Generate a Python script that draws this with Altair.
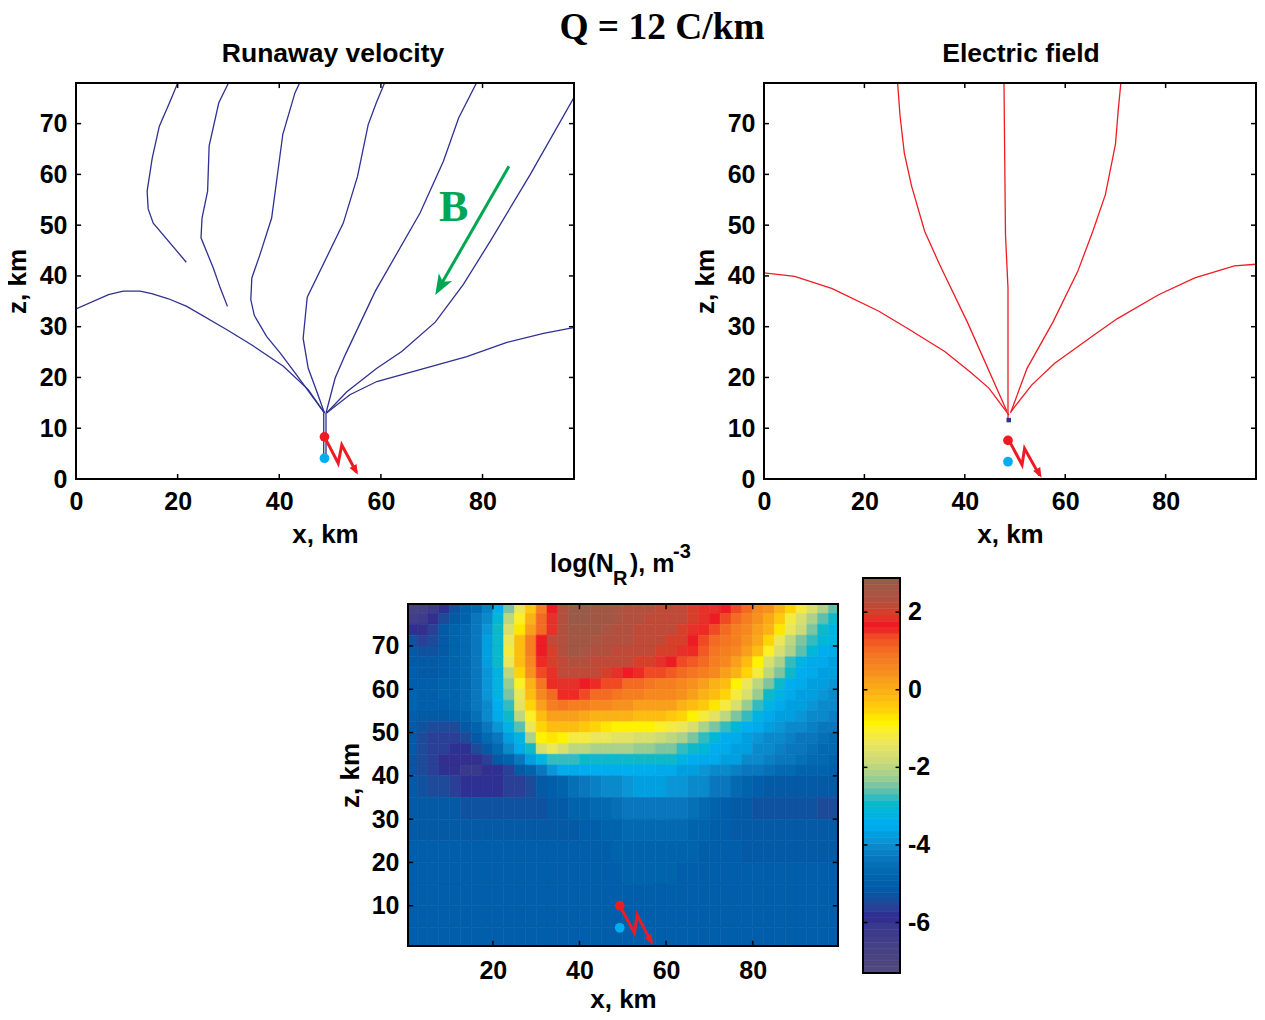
import altair as alt
import pandas as pd

SANS = "Liberation Sans"
SERIF = "Liberation Serif"
NAVY = "#2e3192"
RED = "#ed1c24"
BLUE = "#00aeef"
GREEN = "#00a651"

# ---------- runaway velocity lines (x km, z km)
W1 = [(21.7,42.7),(15.2,50.4),(14.2,53.2),(14.0,56.7),(15.0,63.2),(16.4,69.5),(18.4,74.1),(20.1,78.2)]
W2 = [(29.8,34.0),(28.4,37.6),(27.0,41.6),(24.6,47.5),(24.8,51.4),(25.9,56.7),(26.2,65.6),(28.1,74.1),(30.1,78.2)]
W3 = [(48.9,13.0),(47.0,15.6),(43.4,20.5),(40.2,24.8),(37.5,28.1),(35.1,32.2),(34.4,35.3),(34.6,39.6),(36.2,44.2),(38.5,51.4),(40.7,67.9),(43.1,76.1),(44.1,78.2)]
W4 = [(48.9,13.0),(47.4,17.2),(45.7,21.8),(44.7,27.7),(45.5,35.8),(52.6,50.4),(55.4,59.6),(57.5,69.8),(59.1,74.1),(60.8,78.2)]
W5 = [(49.2,13.0),(51.0,19.9),(53.0,24.5),(58.9,37.0),(67.7,52.4),(72.3,62.6),(75.3,71.1),(78.9,78.2)]
W6 = [(49.3,13.0),(53.3,17.2),(59.2,21.8),(64.1,25.1),(70.7,30.9),(76.2,38.3),(81.5,46.8),(89.4,60.0),(97.9,75.0)]
W7 = [(49.3,13.0),(53.9,16.6),(59.2,19.2),(76.9,24.1),(84.8,26.9),(92.0,28.7),(97.9,29.8)]
W8 = [(48.9,13.0),(45.7,17.6),(40.8,22.2),(34.6,26.4),(29.7,29.4),(21.8,34.0),(18.2,35.5),(14.9,36.5),(12.6,37.0),(9.3,37.0),(6.4,36.3),(0.0,33.5)]
T1 = [(48.75,4.2),(48.75,13.0)]
T2 = [(49.2,4.2),(49.2,13.0)]
VEL_LINES = [W1, W2, W3, W4, W5, W6, W7, W8, T1, T2]

# ---------- electric field lines
E1 = [(48.8,12.6),(44.8,17.9),(41.2,21.0),(36.0,25.1),(28.7,29.6),(22.8,33.1),(13.6,37.5),(6.1,39.9),(0.0,40.6)]
E2 = [(48.4,13.3),(40.6,30.7),(35.0,42.2),(32.0,48.8),(29.4,57.7),(27.95,64.2),(27.1,71.5),(26.6,78.2)]
E3 = [(48.6,11.6),(48.6,37.6),(48.1,48.1),(47.8,78.2)]
E4 = [(49.1,13.0),(52.4,21.8),(57.6,31.0),(62.5,40.9),(65.5,48.8),(68.0,56.0),(70.0,65.9),(70.6,73.1),(71.1,78.2)]
E5 = [(49.2,13.3),(53.3,18.5),(57.9,22.8),(65.8,28.4),(70.4,31.6),(78.6,36.3),(85.8,39.6),(93.7,42.0),(98.0,42.3)]
EF_LINES = [E1, E2, E3, E4, E5]

# ---------- annotation geometry, km
BOLT1 = [(48.9,8.3),(51.6,3.1),(52.3,6.7),(54.6,2.4),(55.2,1.3)]
BOLT2 = [(48.8,7.6),(51.4,2.8),(51.9,6.0),(54.5,1.4),(54.9,0.7)]
BOLT3 = [(49.3,10.0),(52.7,3.7),(53.3,7.9),(56.0,2.7),(56.6,1.6)]
TIP1 = (55.0,1.7); TIP2 = (54.8,1.1); TIP3 = (56.4,2.0)
RED_DOT = [(48.9,8.3),(48.6,7.6),(49.3,10.0)]
BLUE_DOT = [(48.9,4.1),(48.6,3.4),(49.3,4.9)]
B_ARROW = [(85.2,61.6),(72.0,38.6)]
B_TIP = (71.7,38.0)
ROOT2 = (48.75,11.6)

# ---------- colormap, bottom of the colour bar to the top
CMAP_TOP_DOWN = [
 "#9a5a48","#a05845","#a85544","#b25040","#c04a38","#d63f2a","#e6302a","#ed1c24",
 "#ee2a25","#f04a25","#f25a24","#f36a23","#f47522","#f57f20","#f6881f","#f7911e",
 "#f8a01b","#f9a918","#fbb216","#fdbd10","#fec90c","#ffd406","#ffe600","#fff200",
 "#fbef25","#f5eb40","#ece758","#e3e264","#d8df6e","#ccdb76","#bdd680","#abd18a",
 "#97cc93","#7cc5a0","#5dc0ad","#33bcc0","#0db9c9","#00b7d8","#00b3e3","#00aeef",
 "#00aaeb","#009fdf","#0a96d6","#0a8acb","#0a80c4","#0a76bd","#0670b7","#0369b1",
 "#0064ac","#005eaa","#055aa6","#0f52a0","#1e4a9a","#2a3f96","#2e3192","#322f8f",
 "#3a3a8d","#3d3c8b","#413f88","#444186","#474383","#4a4580","#4d477e","#504a7c"]
CMAP = CMAP_TOP_DOWN[::-1]
VMIN, VMAX = -7.3, 2.88

# ---------- log(N_R) grid, top row first; columns every 2.5 km
Z_EDGES = [80,77.5,75,72.5,70,67.5,65,62.5,60,57.5,55,52.5,50,47.5,45,42.5,40,35,30,25,20,15,10,5,0]
X_STEP = 2.5
ROWS = [
[-6.8,-6.6,-6.2,-5.8,-5.3,-4.9,-4.6,-4.2,-3.4,-2.5,-1.4,-0.4,0.8,1.7,2.3,2.8,2.8,2.7,2.6,2.5,2.4,2.3,2.3,2.2,2.2,2.1,2.0,1.9,1.9,1.7,1.4,1.0,0.6,0.4,0.0,-0.6,-1.2,-1.7,-2.2,-2.6],
[-6.5,-6.3,-6.0,-5.5,-5.1,-4.8,-4.4,-4.0,-3.1,-2.0,-1.0,-0.1,1.0,1.9,2.4,2.8,2.8,2.7,2.6,2.5,2.4,2.3,2.2,2.2,2.1,2.1,2.0,1.9,1.7,1.3,1.0,0.7,0.4,0.1,-0.4,-1.1,-1.6,-2.1,-2.6,-3.0],
[-6.0,-5.9,-5.6,-5.2,-4.9,-4.7,-4.3,-3.9,-3.0,-1.7,-0.7,0.2,1.1,1.9,2.3,2.7,2.7,2.6,2.5,2.4,2.3,2.2,2.2,2.1,2.1,2.0,1.9,1.6,1.3,1.0,0.8,0.5,0.2,-0.1,-0.7,-1.3,-1.8,-2.4,-3.0,-3.2],
[-5.3,-5.6,-5.4,-5.1,-4.9,-4.7,-4.3,-3.8,-3.0,-1.3,-0.2,0.8,1.7,2.1,2.4,2.7,2.6,2.5,2.4,2.3,2.3,2.2,2.1,2.1,2.0,2.0,1.7,1.4,1.1,0.9,0.7,0.4,0.1,-0.6,-1.4,-1.9,-2.4,-2.8,-3.1,-3.3],
[-5.2,-5.3,-5.3,-5.1,-4.9,-4.7,-4.3,-3.8,-2.9,-1.2,-0.2,0.7,1.7,2.0,2.3,2.6,2.5,2.4,2.3,2.2,2.2,2.1,2.1,2.0,2.0,1.8,1.5,1.2,0.9,0.7,0.5,0.2,-0.2,-1.0,-1.6,-2.1,-2.6,-3.1,-3.4,-3.5],
[-5.1,-5.2,-5.2,-5.0,-4.9,-4.6,-4.3,-3.8,-3.0,-1.3,-0.3,0.6,1.6,2.0,2.2,2.4,2.3,2.2,2.2,2.1,2.1,2.0,2.0,1.9,1.7,1.4,1.2,1.0,0.7,0.5,0.2,-0.2,-0.9,-1.6,-2.2,-2.7,-3.2,-3.5,-3.6,-3.7],
[-5.0,-5.1,-5.1,-5.0,-4.8,-4.6,-4.3,-3.9,-3.2,-1.9,-0.6,0.4,1.3,1.9,2.1,2.2,2.1,2.1,2.0,1.9,1.7,1.5,1.4,1.3,1.2,1.0,0.9,0.7,0.5,0.3,0.0,-0.5,-1.2,-1.9,-2.5,-3.0,-3.4,-3.6,-3.7,-3.8],
[-5.0,-5.0,-5.0,-4.9,-4.8,-4.6,-4.3,-3.9,-3.2,-2.3,-1.0,0.0,0.9,1.6,1.9,1.9,1.7,1.5,1.4,1.3,1.1,1.0,0.9,0.8,0.7,0.6,0.4,0.2,0.0,-0.3,-0.8,-1.4,-2.0,-2.5,-3.0,-3.4,-3.6,-3.7,-3.8,-3.9],
[-4.9,-5.0,-5.0,-4.9,-4.8,-4.6,-4.3,-3.9,-3.3,-2.5,-1.3,-0.3,0.5,1.1,1.5,1.5,1.3,1.1,1.0,0.9,0.8,0.7,0.6,0.6,0.5,0.4,0.2,0.0,-0.2,-0.6,-1.2,-1.7,-2.3,-2.9,-3.2,-3.5,-3.7,-3.8,-3.9,-4.0],
[-4.9,-5.0,-5.0,-5.0,-4.8,-4.6,-4.3,-4.0,-3.4,-2.7,-1.5,-0.6,0.2,0.7,0.9,0.8,0.7,0.6,0.5,0.4,0.4,0.3,0.3,0.2,0.2,0.0,-0.2,-0.4,-0.7,-1.2,-1.7,-2.3,-2.8,-3.2,-3.5,-3.7,-3.8,-3.9,-4.0,-4.1],
[-5.0,-5.1,-5.2,-5.2,-5.0,-4.8,-4.5,-4.1,-3.6,-3.0,-1.9,-1.0,-0.2,0.2,0.3,0.2,0.1,0.0,0.0,-0.1,-0.1,-0.2,-0.2,-0.3,-0.4,-0.5,-0.8,-1.1,-1.5,-1.9,-2.4,-2.8,-3.2,-3.5,-3.7,-3.8,-3.9,-4.0,-4.1,-4.2],
[-5.1,-5.3,-5.5,-5.5,-5.4,-5.1,-4.8,-4.4,-3.9,-3.3,-2.6,-1.4,-0.5,-0.3,-0.2,-0.3,-0.4,-0.5,-0.7,-0.8,-0.9,-0.9,-0.9,-1.0,-1.2,-1.4,-1.7,-2.1,-2.5,-2.8,-3.1,-3.4,-3.6,-3.8,-3.9,-4.0,-4.1,-4.2,-4.3,-4.4],
[-5.2,-5.4,-5.6,-5.7,-5.7,-5.5,-5.1,-4.7,-4.3,-3.7,-3.2,-2.2,-0.9,-0.7,-0.9,-1.1,-1.2,-1.3,-1.4,-1.5,-1.5,-1.6,-1.6,-1.8,-1.9,-2.2,-2.5,-2.8,-3.1,-3.4,-3.6,-3.7,-3.9,-4.0,-4.1,-4.2,-4.3,-4.4,-4.5,-4.6],
[-5.2,-5.4,-5.6,-5.7,-5.8,-5.8,-5.5,-5.1,-4.6,-4.1,-3.5,-2.9,-1.6,-1.4,-1.6,-1.9,-2.0,-2.1,-2.1,-2.2,-2.2,-2.3,-2.3,-2.4,-2.5,-2.7,-2.9,-3.1,-3.4,-3.5,-3.7,-3.8,-4.0,-4.1,-4.2,-4.3,-4.4,-4.5,-4.6,-4.7],
[-5.3,-5.5,-5.7,-5.9,-6.0,-6.0,-5.9,-5.6,-5.2,-4.8,-4.4,-3.8,-3.2,-2.7,-2.7,-2.8,-2.9,-2.9,-2.9,-2.9,-2.9,-2.9,-2.9,-2.9,-3.0,-3.2,-3.4,-3.5,-3.6,-3.7,-3.8,-4.0,-4.1,-4.2,-4.3,-4.4,-4.5,-4.6,-4.7,-4.8],
[-5.3,-5.5,-5.6,-5.8,-5.95,-6.05,-6.05,-6.0,-5.8,-5.6,-5.2,-4.8,-4.3,-3.9,-3.6,-3.5,-3.4,-3.4,-3.4,-3.4,-3.4,-3.4,-3.4,-3.5,-3.6,-3.7,-3.8,-3.9,-4.0,-4.1,-4.2,-4.3,-4.4,-4.5,-4.6,-4.7,-4.8,-4.9,-4.9,-5.0],
[-5.2,-5.3,-5.4,-5.5,-5.7,-5.8,-5.8,-5.8,-5.8,-5.7,-5.6,-5.4,-5.2,-5.0,-4.8,-4.5,-4.4,-4.2,-4.1,-4.0,-3.9,-3.8,-3.8,-3.8,-3.9,-3.9,-4.0,-4.1,-4.3,-4.4,-4.6,-4.8,-5.0,-5.1,-5.2,-5.2,-5.2,-5.2,-5.2,-5.1],
[-5.2,-5.2,-5.2,-5.2,-5.2,-5.25,-5.25,-5.25,-5.25,-5.25,-5.25,-5.25,-5.25,-5.2,-5.1,-4.9,-4.8,-4.7,-4.6,-4.5,-4.4,-4.3,-4.3,-4.3,-4.3,-4.4,-4.5,-4.7,-4.8,-5.0,-5.1,-5.2,-5.3,-5.35,-5.35,-5.3,-5.3,-5.3,-5.4,-5.4],
[-5.1,-5.1,-5.1,-5.1,-5.1,-5.1,-5.1,-5.1,-5.1,-5.1,-5.1,-5.1,-5.1,-5.1,-5.1,-5.1,-5.05,-5.0,-4.9,-4.8,-4.7,-4.6,-4.6,-4.6,-4.6,-4.7,-4.8,-4.9,-5.0,-5.05,-5.1,-5.2,-5.2,-5.2,-5.2,-5.2,-5.2,-5.2,-5.2,-5.2],
[-5.05,-5.05,-5.05,-5.05,-5.05,-5.05,-5.05,-5.05,-5.05,-5.05,-5.05,-5.05,-5.05,-5.05,-5.05,-5.05,-5.05,-5.0,-5.0,-4.9,-4.9,-4.9,-4.8,-4.8,-4.8,-4.9,-4.9,-5.0,-5.0,-5.05,-5.05,-5.1,-5.1,-5.1,-5.1,-5.1,-5.1,-5.1,-5.1,-5.1],
[-5.05,-5.05,-5.05,-5.05,-5.05,-5.05,-5.05,-5.05,-5.05,-5.05,-5.05,-5.05,-5.05,-5.05,-5.05,-5.05,-5.05,-5.05,-5.0,-5.0,-4.9,-4.9,-4.9,-4.9,-4.9,-5.0,-5.0,-5.05,-5.05,-5.05,-5.05,-5.05,-5.05,-5.05,-5.05,-5.05,-5.05,-5.05,-5.05,-5.05],
[-5.0]*40,
[-5.0]*40,
[-5.0]*40,
]

X_TOP = [0, 98]; Z_TOP = [0, 78]
X_BOT = [0.4, 99.7]; Z_BOT = [0.7, 79.7]
TOP_XT = [0, 20, 40, 60, 80]; TOP_ZT = [0, 10, 20, 30, 40, 50, 60, 70]
BOT_XT = [20, 40, 60, 80]; BOT_ZT = [10, 20, 30, 40, 50, 60, 70]
CB_T = [-6, -4, -2, 0, 2]

FS = 25
AX_BASE = dict(domain=False, ticks=False, grid=False, labelFont=SANS, labelFontWeight="bold",
               labelFontSize=FS, labelColor="black", titleFont=SANS, titleFontWeight="bold",
               titleFontSize=26, titleColor="black", labelFlush=False)


def xe(dom):
    tv = TOP_XT if dom is X_TOP else BOT_XT
    tp = 7 if dom is X_TOP else 3
    lp = 10 if dom is X_TOP else 12
    return alt.X("x:Q", scale=alt.Scale(domain=dom, nice=False, zero=False),
                 axis=alt.Axis(values=tv, title="x, km", labelPadding=lp, titlePadding=tp, **AX_BASE))


def ze(dom):
    tv = TOP_ZT if dom is Z_TOP else BOT_ZT
    tp = 9 if dom is Z_TOP else 8
    return alt.Y("z:Q", scale=alt.Scale(domain=dom, nice=False, zero=False),
                 axis=alt.Axis(values=tv, title="z, km", labelPadding=9, titlePadding=tp, **AX_BASE))


def pts(seq):
    return pd.DataFrame([{"x": a, "z": b, "i": n} for n, (a, b) in enumerate(seq)])


def frame(xd, zd):
    df = pd.DataFrame([{"x": xd[0], "x2": xd[1], "z": zd[0], "z2": zd[1]}])
    return alt.Chart(df).mark_rect(fillOpacity=0, stroke="black", strokeWidth=2).encode(
        x=xe(xd), x2="x2:Q", y=ze(zd), y2="z2:Q")


def ticks(xd, zd, xt, zt, km):
    rec_v = []
    for t in xt:
        rec_v += [{"x": t, "z": zd[0], "z2": zd[0] + km}, {"x": t, "z": zd[1], "z2": zd[1] - km}]
    rec_h = []
    for t in zt:
        rec_h += [{"z": t, "x": xd[0], "x2": xd[0] + km}, {"z": t, "x": xd[1], "x2": xd[1] - km}]
    v = alt.Chart(pd.DataFrame(rec_v)).mark_rule(color="black", strokeWidth=1.5).encode(x=xe(xd), y=ze(zd), y2="z2:Q")
    h = alt.Chart(pd.DataFrame(rec_h)).mark_rule(color="black", strokeWidth=1.5).encode(y=ze(zd), x=xe(xd), x2="x2:Q")
    return v, h


def lines(groups, color, xd, zd):
    rec = []
    for g, seq in enumerate(groups):
        rec += [{"x": a, "z": b, "i": n, "g": g} for n, (a, b) in enumerate(seq)]
    return alt.Chart(pd.DataFrame(rec)).mark_line(color=color, strokeWidth=1.3, clip=True).encode(
        x=xe(xd), y=ze(zd), detail="g:N", order="i:Q")


def bolt(seq, tip, xd, zd):
    ln = alt.Chart(pts(seq)).mark_line(color=RED, strokeWidth=3).encode(x=xe(xd), y=ze(zd), order="i:Q")
    head = alt.Chart(pts([tip])).mark_point(shape="M0,-1 L0.8,1 L-0.8,1 Z", filled=True, fill=RED, stroke=RED,
                                            strokeWidth=0, opacity=1, size=100, angle=151).encode(x=xe(xd), y=ze(zd))
    return [ln, head]


def dot(p, color, xd, zd):
    return alt.Chart(pts([p])).mark_point(filled=True, fill=color, stroke=color, strokeWidth=0, opacity=1,
                                          size=95, shape="circle").encode(x=xe(xd), y=ze(zd))


def label(text, px, py, size=FS, font=SANS, align="left", color="black"):
    d = pd.DataFrame([{"a": 0}])
    return alt.Chart(d).mark_text(text=text, font=font, fontWeight="bold", fontSize=size, align=align,
                                  baseline="alphabetic", color=color).encode(x=alt.value(px), y=alt.value(py))


# ---------- panel 1
p1_layers = [lines(VEL_LINES, NAVY, X_TOP, Z_TOP)]
p1_layers += [frame(X_TOP, Z_TOP), *ticks(X_TOP, Z_TOP, TOP_XT, TOP_ZT, 1)]
p1_layers += [alt.Chart(pts(B_ARROW)).mark_line(color=GREEN, strokeWidth=3).encode(x=xe(X_TOP), y=ze(Z_TOP), order="i:Q")]
p1_layers += [alt.Chart(pts([B_TIP])).mark_point(shape="M0,-1 L0.75,1 L0,0.5 L-0.75,1 Z", filled=True, fill=GREEN,
              stroke=GREEN, strokeWidth=0, opacity=1, size=420, angle=209.8).encode(x=xe(X_TOP), y=ze(Z_TOP))]
p1_layers += [alt.Chart(pd.DataFrame([{"x": 74.3, "z": 50.8}])).mark_text(text="B", font=SERIF, fontWeight="bold",
              fontSize=44, color=GREEN, baseline="alphabetic").encode(x=xe(X_TOP), y=ze(Z_TOP))]
p1_layers += bolt(BOLT1, TIP1, X_TOP, Z_TOP)
p1_layers += [dot(RED_DOT[0], RED, X_TOP, Z_TOP), dot(BLUE_DOT[0], BLUE, X_TOP, Z_TOP)]
p1_layers += [label("Runaway velocity", 257, -21, 26.5, align="center"),
              label("Q = 12 C/km", 586, -44.5, 37.4, SERIF, "center")]
p1 = alt.layer(*p1_layers).properties(width=498, height=396)

# ---------- panel 2 (492 px wide: the page margin leaves no more room)
p2_layers = [lines(EF_LINES, RED, X_TOP, Z_TOP)]
p2_layers += [frame(X_TOP, Z_TOP), *ticks(X_TOP, Z_TOP, TOP_XT, TOP_ZT, 1)]
p2_layers += [alt.Chart(pts([ROOT2])).mark_point(shape="square", filled=True, fill=NAVY, stroke=NAVY, strokeWidth=0,
              opacity=1, size=20).encode(x=xe(X_TOP), y=ze(Z_TOP))]
p2_layers += bolt(BOLT2, TIP2, X_TOP, Z_TOP)
p2_layers += [dot(RED_DOT[1], RED, X_TOP, Z_TOP), dot(BLUE_DOT[1], BLUE, X_TOP, Z_TOP)]
p2_layers += [label("Electric field", 257, -21, 26.5, align="center")]
p2 = alt.layer(*p2_layers).properties(width=492, height=396)

# ---------- heat map
col_scale = alt.Scale(type="quantize", domain=[VMIN, VMAX], range=CMAP)
rec = []
for r, row in enumerate(ROWS):
    for c, v in enumerate(row):
        rec.append({"x": c * X_STEP, "x2": (c + 1) * X_STEP, "z": Z_EDGES[r + 1], "z2": Z_EDGES[r], "v": v})
heat = alt.Chart(pd.DataFrame(rec)).mark_rect(clip=True, strokeWidth=0.6).encode(
    x=xe(X_BOT), x2="x2:Q", y=ze(Z_BOT), y2="z2:Q",
    color=alt.Color("v:Q", scale=col_scale, legend=None),
    stroke=alt.Stroke("v:Q", scale=col_scale, legend=None))
h_layers = [heat, frame(X_BOT, Z_BOT), *ticks(X_BOT, Z_BOT, BOT_XT, BOT_ZT, 1.2)]
h_layers += bolt(BOLT3, TIP3, X_BOT, Z_BOT)
h_layers += [dot(RED_DOT[2], RED, X_BOT, Z_BOT), dot(BLUE_DOT[2], BLUE, X_BOT, Z_BOT)]
h_layers += [label("log(N", 142, -32), label("R", 205, -19, 20), label("), m", 222, -32), label("-3", 265, -46, 20)]
main = alt.layer(*h_layers)

# ---------- colour bar, placed by its own pixel range beside the heat map
CB_X = alt.Scale(domain=[0, 1], range=[455, 492], nice=False, zero=False)
CB_Y = alt.Scale(domain=[VMIN, VMAX], range=[369, -26], nice=False, zero=False)
step = (VMAX - VMIN) / len(CMAP)
bands = pd.DataFrame([{"x": 0, "x2": 1, "z": VMIN + i * step, "z2": VMIN + (i + 1) * step,
                       "v": VMIN + (i + 0.5) * step} for i in range(len(CMAP))])
cx = alt.X("x:Q", scale=CB_X, axis=None, title=None)
cy = alt.Y("z:Q", scale=CB_Y, axis=None, title=None)
cb_rect = alt.Chart(bands).mark_rect(strokeWidth=0.6).encode(
    x=cx, x2="x2:Q", y=cy, y2="z2:Q",
    color=alt.Color("v:Q", scale=col_scale, legend=None),
    stroke=alt.Stroke("v:Q", scale=col_scale, legend=None))
cb_frame = alt.Chart(pd.DataFrame([{"x": 0, "x2": 1, "z": VMIN, "z2": VMAX}])).mark_rect(
    fillOpacity=0, stroke="black", strokeWidth=2).encode(x=cx, x2="x2:Q", y=cy, y2="z2:Q")
cb_ticks = alt.Chart(pd.DataFrame([{"z": t, "x": a, "x2": b} for t in CB_T for a, b in [(0, 0.12), (1, 0.88)]])).mark_rule(
    color="black", strokeWidth=1.5).encode(y=cy, x=cx, x2="x2:Q")
cb_text = alt.Chart(pd.DataFrame([{"x": 1, "z": t, "t": str(t)} for t in CB_T])).mark_text(
    font=SANS, fontWeight="bold", fontSize=FS, align="left", baseline="middle", dx=8, color="black").encode(x=cx, y=cy, text="t:N")
cbar = alt.layer(cb_rect, cb_frame, cb_ticks, cb_text)

p3 = alt.layer(main, cbar).resolve_scale(x="independent", y="independent").properties(width=430, height=342)

spacer = alt.Chart(pd.DataFrame([{"a": 0}])).mark_point(opacity=0).encode(x=alt.value(0), y=alt.value(0)).properties(width=332, height=342)

top = alt.hconcat(p1, p2, spacing=190, bounds="flush")
bottom = alt.hconcat(spacer, p3, spacing=0, bounds="flush")
chart = alt.vconcat(top, bottom, spacing=-5).configure_view(stroke=None).properties(
    padding={"left": -4, "top": 0, "right": 0, "bottom": 0}, background="white")
chart.save("out.html", embed_options={"renderer": "svg", "actions": False})
